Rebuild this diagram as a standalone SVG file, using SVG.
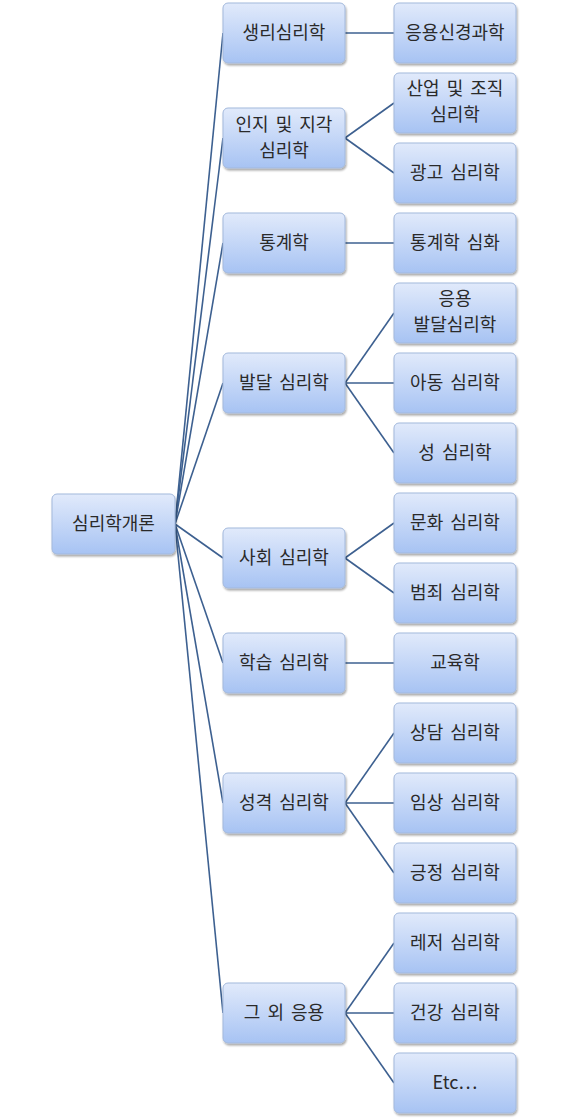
<svg xmlns="http://www.w3.org/2000/svg" width="567" height="1120" viewBox="0 0 567 1120">
<defs>
<linearGradient id="g" x1="0" y1="0" x2="0" y2="1">
<stop offset="0" stop-color="#e1eafb"/>
<stop offset="1" stop-color="#a7c3f3"/>
</linearGradient>
<filter id="sh" x="-10%" y="-10%" width="130%" height="130%">
<feGaussianBlur in="SourceAlpha" stdDeviation="1.2"/>
<feOffset dx="0.5" dy="1.5" result="b"/>
<feComponentTransfer><feFuncA type="linear" slope="0.35"/></feComponentTransfer>
<feMerge><feMergeNode/><feMergeNode in="SourceGraphic"/></feMerge>
</filter>
</defs>
<style>
.n rect{fill:url(#g);stroke:#a3b9dc;stroke-width:1;filter:url(#sh)}
.n text{font-family:"Noto Sans CJK KR","Noto Sans",sans-serif;font-size:18px;fill:#2a2a2a;text-anchor:middle;word-spacing:3px}
#connectors line{stroke:#3d6090;stroke-width:1.6}
</style>
<rect width="567" height="1120" fill="#ffffff"/>
<g id="connectors">
<line x1="175" y1="524" x2="223" y2="33"/>
<line x1="175" y1="524" x2="223" y2="138"/>
<line x1="175" y1="524" x2="223" y2="243"/>
<line x1="175" y1="524" x2="223" y2="383"/>
<line x1="175" y1="524" x2="223" y2="558"/>
<line x1="175" y1="524" x2="223" y2="663"/>
<line x1="175" y1="524" x2="223" y2="803"/>
<line x1="175" y1="524" x2="223" y2="1013"/>
<line x1="345" y1="33" x2="394" y2="33"/>
<line x1="345" y1="138" x2="394" y2="103"/>
<line x1="345" y1="138" x2="394" y2="173"/>
<line x1="345" y1="243" x2="394" y2="243"/>
<line x1="345" y1="383" x2="394" y2="313"/>
<line x1="345" y1="383" x2="394" y2="383"/>
<line x1="345" y1="383" x2="394" y2="453"/>
<line x1="345" y1="558" x2="394" y2="523"/>
<line x1="345" y1="558" x2="394" y2="593"/>
<line x1="345" y1="663" x2="394" y2="663"/>
<line x1="345" y1="803" x2="394" y2="733"/>
<line x1="345" y1="803" x2="394" y2="803"/>
<line x1="345" y1="803" x2="394" y2="873"/>
<line x1="345" y1="1013" x2="394" y2="943"/>
<line x1="345" y1="1013" x2="394" y2="1013"/>
<line x1="345" y1="1013" x2="394" y2="1083"/>
</g>
<g id="root" class="n"><rect x="52" y="494" width="123" height="60" rx="5"/><text x="113.5" y="530">심리학개론</text></g>
<g id="m1" class="n"><rect x="223" y="3" width="122" height="60" rx="5"/><text x="284" y="39">생리심리학</text></g>
<g id="m2" class="n"><rect x="223" y="108" width="122" height="60" rx="5"/><text x="284" y="131">인지 및 지각</text><text x="284" y="157">심리학</text></g>
<g id="m3" class="n"><rect x="223" y="213" width="122" height="60" rx="5"/><text x="284" y="249">통계학</text></g>
<g id="m4" class="n"><rect x="223" y="353" width="122" height="60" rx="5"/><text x="284" y="389">발달 심리학</text></g>
<g id="m5" class="n"><rect x="223" y="528" width="122" height="60" rx="5"/><text x="284" y="564">사회 심리학</text></g>
<g id="m6" class="n"><rect x="223" y="633" width="122" height="60" rx="5"/><text x="284" y="669">학습 심리학</text></g>
<g id="m7" class="n"><rect x="223" y="773" width="122" height="60" rx="5"/><text x="284" y="809">성격 심리학</text></g>
<g id="m8" class="n"><rect x="223" y="983" width="122" height="60" rx="5"/><text x="284" y="1019">그 외 응용</text></g>
<g id="r1" class="n"><rect x="394" y="3" width="122" height="60" rx="5"/><text x="455" y="39">응용신경과학</text></g>
<g id="r2" class="n"><rect x="394" y="73" width="122" height="60" rx="5"/><text x="455" y="95">산업 및 조직</text><text x="455" y="121">심리학</text></g>
<g id="r3" class="n"><rect x="394" y="143" width="122" height="60" rx="5"/><text x="455" y="179">광고 심리학</text></g>
<g id="r4" class="n"><rect x="394" y="213" width="122" height="60" rx="5"/><text x="455" y="249">통계학 심화</text></g>
<g id="r5" class="n"><rect x="394" y="283" width="122" height="60" rx="5"/><text x="455" y="305">응용</text><text x="455" y="331">발달심리학</text></g>
<g id="r6" class="n"><rect x="394" y="353" width="122" height="60" rx="5"/><text x="455" y="389">아동 심리학</text></g>
<g id="r7" class="n"><rect x="394" y="423" width="122" height="60" rx="5"/><text x="455" y="459">성 심리학</text></g>
<g id="r8" class="n"><rect x="394" y="493" width="122" height="60" rx="5"/><text x="455" y="529">문화 심리학</text></g>
<g id="r9" class="n"><rect x="394" y="563" width="122" height="60" rx="5"/><text x="455" y="599">범죄 심리학</text></g>
<g id="r10" class="n"><rect x="394" y="633" width="122" height="60" rx="5"/><text x="455" y="669">교육학</text></g>
<g id="r11" class="n"><rect x="394" y="703" width="122" height="60" rx="5"/><text x="455" y="739">상담 심리학</text></g>
<g id="r12" class="n"><rect x="394" y="773" width="122" height="60" rx="5"/><text x="455" y="809">임상 심리학</text></g>
<g id="r13" class="n"><rect x="394" y="843" width="122" height="60" rx="5"/><text x="455" y="879">긍정 심리학</text></g>
<g id="r14" class="n"><rect x="394" y="913" width="122" height="60" rx="5"/><text x="455" y="949">레저 심리학</text></g>
<g id="r15" class="n"><rect x="394" y="983" width="122" height="60" rx="5"/><text x="455" y="1019">건강 심리학</text></g>
<g id="r16" class="n"><rect x="394" y="1053" width="122" height="60" rx="5"/><text x="455" y="1089">Etc⋯</text></g>
</svg>
